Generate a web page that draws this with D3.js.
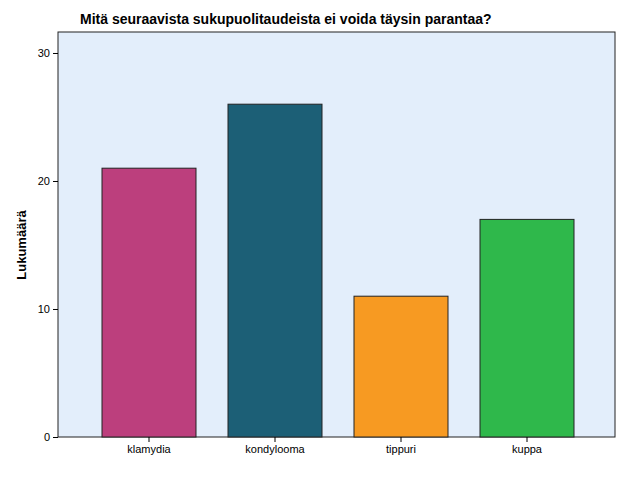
<!DOCTYPE html>
<html><head><meta charset="utf-8">
<script src="https://cdn.jsdelivr.net/npm/d3@7"></script>
<style>body{margin:0;background:#fff}text{font-family:Arial,"Liberation Sans",sans-serif}</style>
</head><body>
<svg id="c" width="626" height="501"></svg>
<script>
const categories = ["klamydia","kondylooma","tippuri","kuppa"];
const values = [21,26,11,17];
const colors = ["#bc3f7d","#1c5f76","#f79a22","#2fb84b"];
const yTicks = [0,10,20,30];

const svg = d3.select("#c");
const L=58,R=615,T=32,B=437;
svg.append("rect").attr("x",L).attr("y",T).attr("width",R-L).attr("height",B-T)
  .attr("fill","#e3eefb").attr("stroke","#222").attr("stroke-width",1);
const y = d3.scaleLinear().domain([0,31.64]).range([B,T]);
const x = d3.scaleBand().domain(categories).range([86,590]).paddingInner(0.254).paddingOuter(0.127);

svg.selectAll(".bar").data(values).enter().append("rect")
  .attr("x",(d,i)=>x(categories[i])).attr("y",d=>y(d))
  .attr("width",x.bandwidth()).attr("height",d=>B-y(d))
  .attr("fill",(d,i)=>colors[i]).attr("stroke","#222").attr("stroke-width",1);

const ya = svg.append("g").attr("transform",`translate(${L},0)`)
  .call(d3.axisLeft(y).tickValues(yTicks).tickSize(5).tickSizeOuter(0));
ya.select(".domain").remove();
ya.selectAll("text").attr("font-size",11).attr("fill","#000");
const xa = svg.append("g").attr("transform",`translate(0,${B})`)
  .call(d3.axisBottom(x).tickSize(5).tickSizeOuter(0));
xa.select(".domain").remove();
xa.selectAll("text").attr("font-size",11).attr("fill","#000");

svg.append("text").attr("x",80).attr("y",24).attr("font-size",14).attr("font-weight","bold")
  .text("Mitä seuraavista sukupuolitaudeista ei voida täysin parantaa?");
svg.append("text").attr("transform","translate(26,245) rotate(-90)").attr("text-anchor","middle")
  .attr("font-size",13).attr("font-weight","bold").text("Lukumäärä");
</script>
</body></html>
